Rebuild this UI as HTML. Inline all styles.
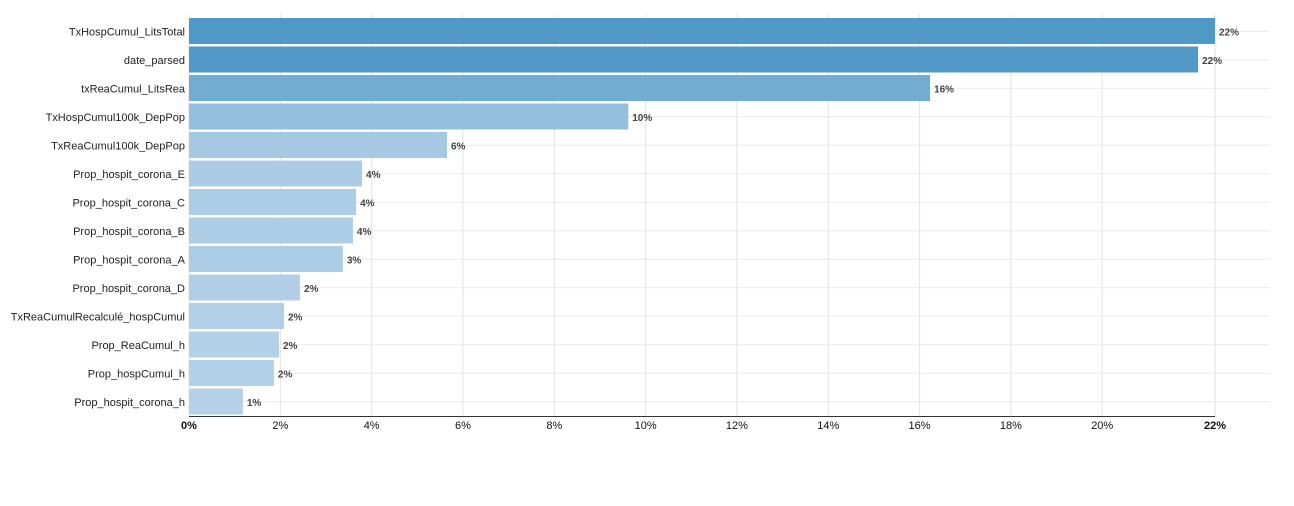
<!DOCTYPE html>
<html><head><meta charset="utf-8"><style>
body{margin:0;background:#fff;font-family:"Liberation Sans",Arial,sans-serif}
</style></head><body>
<svg id="chart" width="1294" height="501" xmlns="http://www.w3.org/2000/svg"></svg>
<script>
const categories=["TxHospCumul_LitsTotal","date_parsed","txReaCumul_LitsRea","TxHospCumul100k_DepPop","TxReaCumul100k_DepPop","Prop_hospit_corona_E","Prop_hospit_corona_C","Prop_hospit_corona_B","Prop_hospit_corona_A","Prop_hospit_corona_D","TxReaCumulRecalculé_hospCumul","Prop_ReaCumul_h","Prop_hospCumul_h","Prop_hospit_corona_h"];
const values=[22.47,22.1,16.23,9.62,5.65,3.79,3.66,3.59,3.37,2.43,2.08,1.97,1.86,1.18];
const tickValues=[0,2,4,6,8,10,12,14,16,18,20];
const ns="http://www.w3.org/2000/svg";
const svg=document.getElementById('chart');
const x0=189,x1=1215,yTop=17,yBot=416,xGridEnd=1270;
const maxV=Math.max(...values);
const xs=v=>x0+(v/maxV)*(x1-x0);
const pitch=(yBot-yTop)/categories.length;
const ys=i=>yTop+i*pitch;
function mk(t,a){const e=document.createElementNS(ns,t);for(const k in a)e.setAttribute(k,a[k]);svg.appendChild(e);return e;}
function lerp(a,b,t){return Math.round(a+(b-a)*t);}
function color(v){const t=Math.pow(v/maxV,1.3);return `rgb(${lerp(182,80,t)},${lerp(210,152,t)},${lerp(233,198,t)})`;}
// vertical grid
tickValues.concat([maxV]).forEach(v=>{const l=mk('line',{x1:xs(v),x2:xs(v),y1:yTop-3,y2:yBot,stroke:'#e3e3e3'});
});
// horizontal grid
categories.forEach((c,i)=>{const l=mk('line',{x1:x0,x2:xGridEnd,y1:ys(i)+pitch/2,y2:ys(i)+pitch/2,stroke:'#e8e8e8'});
});
categories.forEach((c,i)=>{
 const r=mk('rect',{x:x0,y:ys(i)+1,width:xs(values[i])-x0,height:pitch-2.5,fill:color(values[i])});
 
 const t=mk('text',{x:185,y:ys(i)+pitch/2+4,'text-anchor':'end','font-size':'11',fill:'#222'});t.textContent=c;
 
 const v=mk('text',{x:xs(values[i])+4,y:ys(i)+pitch/2+4,'font-size':'10','font-weight':'bold',fill:'#444'});v.textContent=Math.round(values[i])+'%';
 
});
const ax=mk('line',{x1:x0,x2:x1,y1:yBot+0.5,y2:yBot+0.5,stroke:'#333'});

tickValues.concat([maxV]).forEach((v,i)=>{const t=mk('text',{x:xs(v),y:429,'text-anchor':'middle','font-size':'11','font-weight':(i===0||v===maxV)?'bold':'normal',fill:'#111'});
 t.textContent=Math.round(v)+'%';});
</script>
</body></html>
